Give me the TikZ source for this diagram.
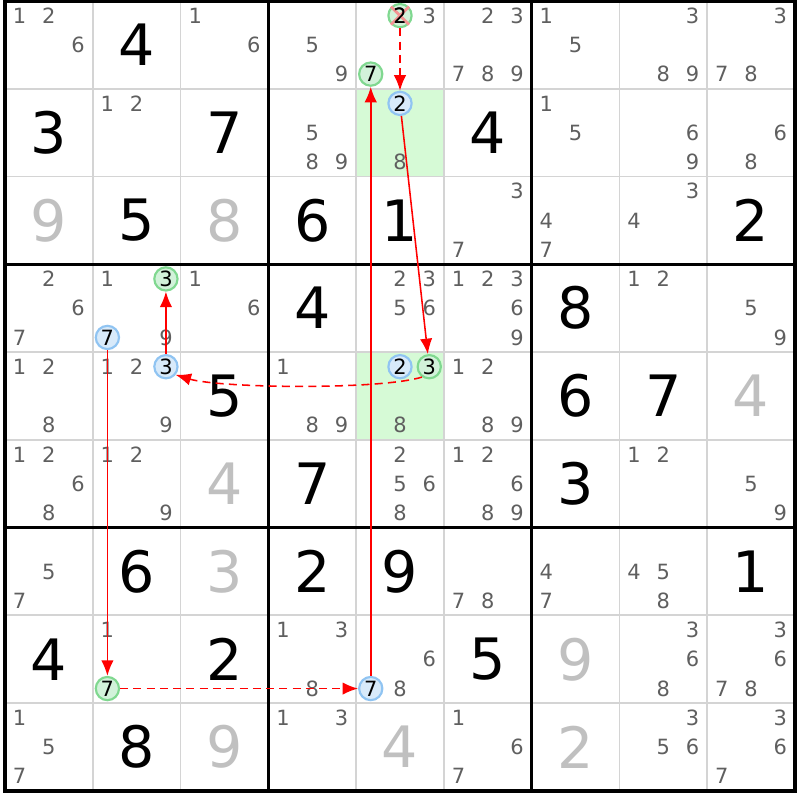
\documentclass[tikz,border=0pt]{standalone}
\usepackage{fontspec}
\setmainfont{DejaVu Sans}
\usetikzlibrary{arrows.meta}

\definecolor{gridgray}{HTML}{D4D4D4}
\definecolor{candgray}{HTML}{5F5F5F}
\definecolor{solvedgray}{HTML}{C0C0C0}
\definecolor{cellgreen}{HTML}{D6FAD6}
\definecolor{ringgreen}{HTML}{80D890}
\definecolor{fillgreen}{HTML}{D2F2DA}
\definecolor{ringblue}{HTML}{90C4F2}
\definecolor{fillblue}{HTML}{D8EAFA}
\definecolor{crosspink}{HTML}{F49494}

\tikzset{
  given/.style={inner sep=0pt, font=\fontsize{18.5}{18.5}\selectfont},
  solved/.style={given, text=solvedgray},
  cand/.style={inner sep=0pt, text=candgray, font=\fontsize{6.8}{6.8}\selectfont},
  ring/.style={circle, inner sep=0pt, minimum size=0.265cm, line width=0.7pt,
    font=\fontsize{6.8}{6.8}\selectfont},
  greenring/.style={ring, draw=ringgreen, fill=fillgreen},
  bluering/.style={ring, draw=ringblue, fill=fillblue},
  link/.style={red, line width=0.5pt, -{Latex[length=5pt,width=4pt]}},
  weak/.style={link, dash pattern=on 2.6pt off 1.7pt}
}

% row, column, digit, style
\newcommand{\digit}[4]{\node[#4] (d#1#2) at (#2-0.5,0.5-#1) {#3};}
% row, column, list of candidates
\newcommand{\cands}[3]{\foreach \d in {#3}
  \node[cand] (c#1#2\d) at ({#2-1+mod(\d-1,3)/3+1/6},{1-#1-floor((\d-1)/3)/3-1/6}) {\d};}
% row, column, candidate, style
\newcommand{\ring}[4]{\node[#4] (r#1c#2d#3)
  at ({#2-1+mod(#3-1,3)/3+1/6},{1-#1-floor((#3-1)/3)/3-1/6}) {#3};}

\begin{document}
\begin{tikzpicture}
    \useasboundingbox (-0.057,0.011) rectangle (9.057,-9.103);

    % Highlighted cells
    \fill[cellgreen] (4,-1) rectangle (5,-2);
    \fill[cellgreen] (4,-4) rectangle (5,-5);

    % Grid
    \foreach \i in {1,2,4,5,7,8} {
        \draw[gridgray, line width=0.6pt] (\i,0) -- (\i,-9);
        \draw[gridgray, line width=0.6pt] (0,-\i) -- (9,-\i);
    }
    \foreach \i in {3,6} {
        \draw[line width=1pt] (\i,0) -- (\i,-9);
        \draw[line width=1pt] (0,-\i) -- (9,-\i);
    }
    \draw[line width=1pt] (0,0) rectangle (9,-9);

    % Row 1
    \cands{1}{1}{1,2,6} \digit{1}{2}{4}{given} \cands{1}{3}{1,6}
    \cands{1}{4}{5,9} \cands{1}{5}{3} \cands{1}{6}{2,3,7,8,9}
    \cands{1}{7}{1,5} \cands{1}{8}{3,8,9} \cands{1}{9}{3,7,8}
    % Row 2
    \digit{2}{1}{3}{given} \cands{2}{2}{1,2} \digit{2}{3}{7}{given}
    \cands{2}{4}{5,8,9} \cands{2}{5}{8} \digit{2}{6}{4}{given}
    \cands{2}{7}{1,5} \cands{2}{8}{6,9} \cands{2}{9}{6,8}
    % Row 3
    \digit{3}{1}{9}{solved} \digit{3}{2}{5}{given} \digit{3}{3}{8}{solved}
    \digit{3}{4}{6}{given} \digit{3}{5}{1}{given} \cands{3}{6}{3,7}
    \cands{3}{7}{4,7} \cands{3}{8}{3,4} \digit{3}{9}{2}{given}
    % Row 4
    \cands{4}{1}{2,6,7} \cands{4}{2}{1,9} \cands{4}{3}{1,6}
    \digit{4}{4}{4}{given} \cands{4}{5}{2,3,5,6} \cands{4}{6}{1,2,3,6,9}
    \digit{4}{7}{8}{given} \cands{4}{8}{1,2} \cands{4}{9}{5,9}
    % Row 5
    \cands{5}{1}{1,2,8} \cands{5}{2}{1,2,9} \digit{5}{3}{5}{given}
    \cands{5}{4}{1,8,9} \cands{5}{5}{8} \cands{5}{6}{1,2,8,9}
    \digit{5}{7}{6}{given} \digit{5}{8}{7}{given} \digit{5}{9}{4}{solved}
    % Row 6
    \cands{6}{1}{1,2,6,8} \cands{6}{2}{1,2,9} \digit{6}{3}{4}{solved}
    \digit{6}{4}{7}{given} \cands{6}{5}{2,5,6,8} \cands{6}{6}{1,2,6,8,9}
    \digit{6}{7}{3}{given} \cands{6}{8}{1,2} \cands{6}{9}{5,9}
    % Row 7
    \cands{7}{1}{5,7} \digit{7}{2}{6}{given} \digit{7}{3}{3}{solved}
    \digit{7}{4}{2}{given} \digit{7}{5}{9}{given} \cands{7}{6}{7,8}
    \cands{7}{7}{4,7} \cands{7}{8}{4,5,8} \digit{7}{9}{1}{given}
    % Row 8
    \digit{8}{1}{4}{given} \cands{8}{2}{1} \digit{8}{3}{2}{given}
    \cands{8}{4}{1,3,8} \cands{8}{5}{6,8} \digit{8}{6}{5}{given}
    \digit{8}{7}{9}{solved} \cands{8}{8}{3,6,8} \cands{8}{9}{3,6,7,8}
    % Row 9
    \cands{9}{1}{1,5,7} \digit{9}{2}{8}{given} \digit{9}{3}{9}{solved}
    \cands{9}{4}{1,3} \digit{9}{5}{4}{solved} \cands{9}{6}{1,6,7}
    \digit{9}{7}{2}{solved} \cands{9}{8}{3,5,6} \cands{9}{9}{3,6,7}

    % Marked candidates
    \ring{1}{5}{2}{greenring}
    \draw[crosspink, line width=0.9pt] (r1c5d2.135) -- (r1c5d2.-45)
        (r1c5d2.45) -- (r1c5d2.-135);
    \node[inner sep=0pt, font=\fontsize{6.8}{6.8}\selectfont] (x2) at (r1c5d2) {2};
    \ring{1}{5}{7}{greenring}
    \ring{2}{5}{2}{bluering}
    \ring{4}{2}{3}{greenring}
    \ring{4}{2}{7}{bluering}
    \ring{5}{2}{3}{bluering}
    \ring{5}{5}{2}{bluering}
    \ring{5}{5}{3}{greenring}
    \ring{8}{2}{7}{greenring}
    \ring{8}{5}{7}{bluering}

    % Chain
    \draw[weak] (r1c5d2) -- (r2c5d2);
    \draw[link] (r2c5d2) -- (r5c5d3);
    \draw[weak] (r5c5d3.235) .. controls +(-0.5,-0.15) and +(0.5,-0.15) .. (r5c2d3.-40);
    \draw[link] (r5c2d3) -- (r4c2d3);
    \draw[link] (r4c2d7) -- (r8c2d7);
    \draw[weak] (r8c2d7) -- (r8c5d7);
    \draw[link] (r8c5d7) -- (r1c5d7);
\end{tikzpicture}
\end{document}
